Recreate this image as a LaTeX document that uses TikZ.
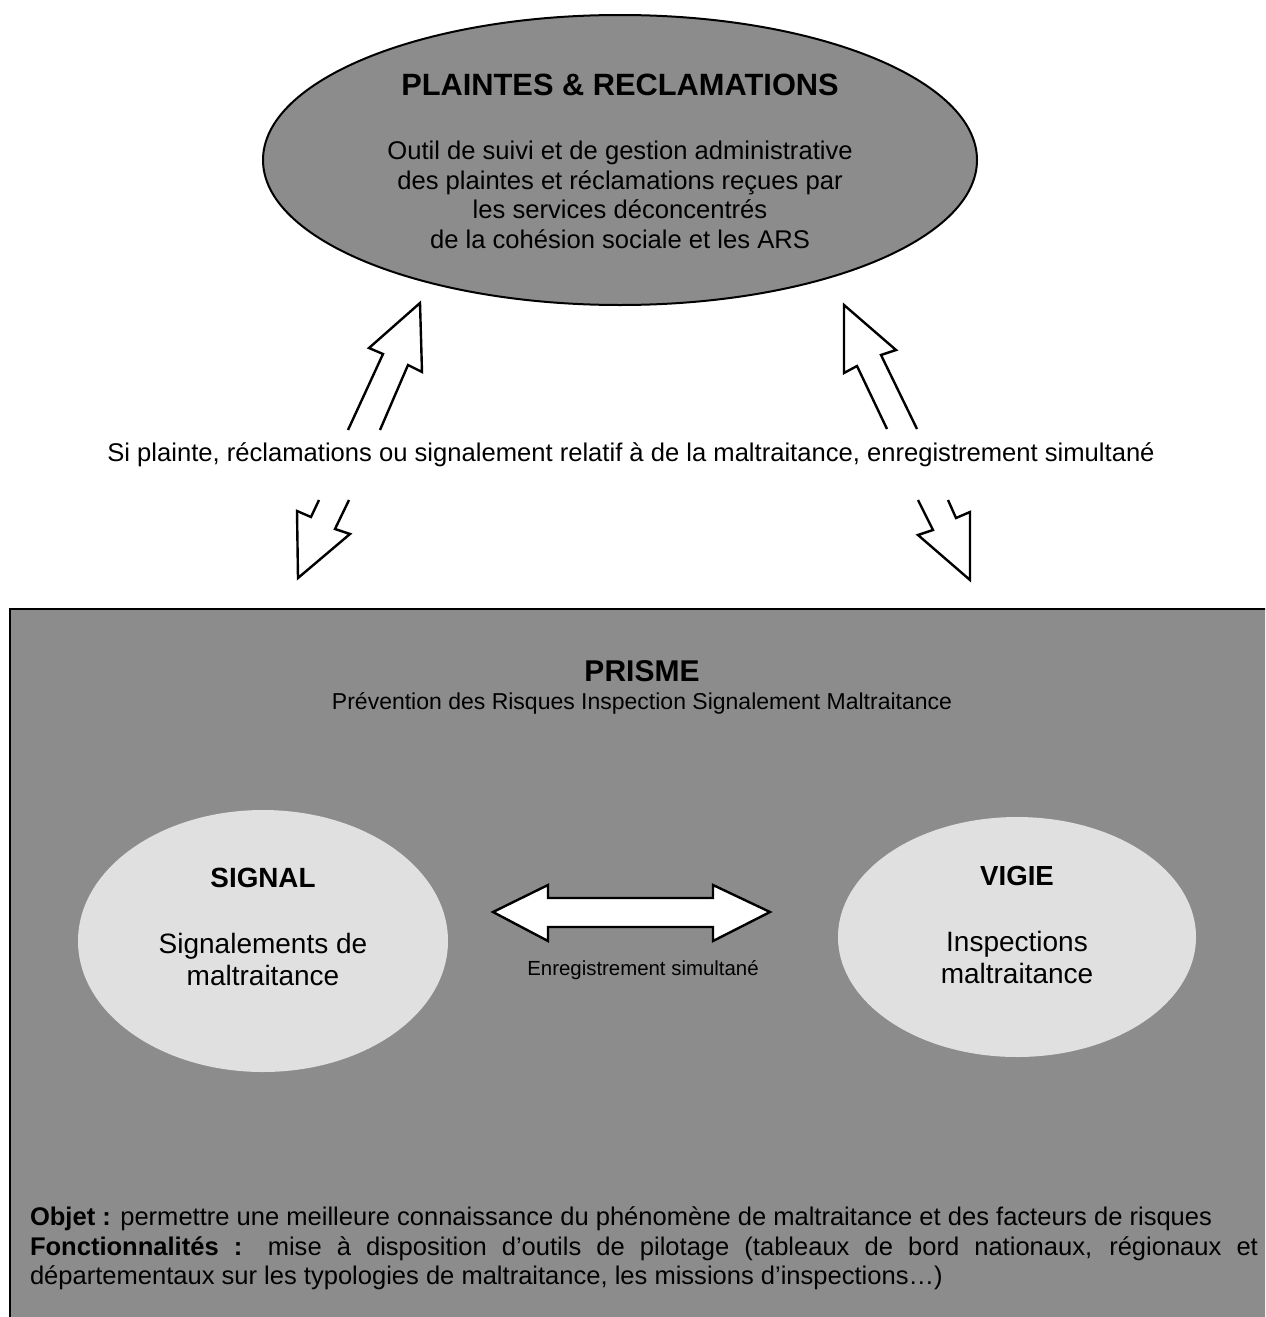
\documentclass[tikz,border=0pt]{standalone}
\usepackage{fontspec}
\setmainfont{Liberation Sans}
\definecolor{boxgray}{HTML}{8C8C8C}
\definecolor{lightgray}{HTML}{E0E0E0}
\tikzset{%
    inner sep=0pt,%
    outer sep=2pt,%
    block arrow/.style={draw=black, line width=1.2pt, fill=white, line join=miter},%
    gray shape/.style={draw=black, line width=1pt, fill=boxgray},%
    light shape/.style={draw=none, fill=lightgray}%
}
\newcommand\fsz[2]{\fontsize{#1}{#2}\selectfont}

\begin{document}
\begin{tikzpicture}[x=0.5pt, y=-0.5pt] % one unit = one pixel of the reference

    \useasboundingbox (0,0) rectangle (1265,1317);
    \clip (0,0) rectangle (1265,1317);

    % top ellipse
    \filldraw[gray shape] (620,160) ellipse (357 and 145);
    \node[font=\fsz{15.4}{18}\bfseries] (plTitle) at (620,85) {PLAINTES \& RECLAMATIONS};
    \node[align=center, font=\fsz{12.8}{14.75}] (plText) at (620,195) {Outil de suivi et de gestion administrative\\
        des plaintes et réclamations reçues par\\ les services déconcentrés\\
        de la cohésion sociale et les ARS};

    % broken arrows up
    \draw[block arrow] (348,430) -- (383,354) -- (369,348) -- (420,303) -- (422,372) -- (408,365) -- (380,430);
    \draw[block arrow] (887,429) -- (857,366) -- (844,373) -- (844,305) -- (896,350) -- (881,355) -- (917,429);

    \node[font=\fsz{12.8}{15}] (simult) at (631,455) {Si plainte, réclamations ou signalement relatif à de la maltraitance, enregistrement simultané};

    % broken arrows down
    \draw[block arrow] (319,500) -- (311,517) -- (297,511) -- (298,578) -- (350,534) -- (335,529) -- (349,500);
    \draw[block arrow] (918,500) -- (933,530) -- (918,535) -- (970,580) -- (970,512) -- (956,518) -- (948,500);

    % PRISME box
    \filldraw[gray shape] (10,609) rectangle (1300,1350);
    \node[font=\fsz{15}{18}\bfseries] (prTitle) at (642,671) {PRISME};
    \node[font=\fsz{11.5}{13}] (prSub) at (642,703) {Prévention des Risques Inspection Signalement Maltraitance};

    % SIGNAL and VIGIE
    \fill[light shape] (263,941) ellipse (185 and 131);
    \fill[light shape] (1017,937) ellipse (179 and 120);
    \node[font=\fsz{13.9}{16}\bfseries] (sgTitle) at (263,878) {SIGNAL};
    \node[align=center, font=\fsz{14}{16}] (sgText) at (263,959) {Signalements de\\ maltraitance};
    \node[font=\fsz{13.8}{16}\bfseries] (vgTitle) at (1017,876) {VIGIE};
    \node[align=center, font=\fsz{14}{16}] (vgText) at (1017,957) {Inspections\\ maltraitance};

    % double arrow
    \draw[block arrow] (493,912) -- (548,885) -- (548,898) -- (713,898) -- (713,885) -- (770,912)
        -- (713,941) -- (713,927) -- (548,927) -- (548,941) -- cycle;
    \node[font=\fsz{10.2}{12}] (enreg) at (643,970) {Enregistrement simultané};

    % bottom text
    \node[anchor=north west, text width=614pt, align=justify, font=\fsz{12.77}{14.75}] (objet) at (26,1203) {\hyphenpenalty=10000
        \textbf{Objet :} permettre une meilleure connaissance du phénomène de maltraitance et des facteurs de risques\par
        \textbf{Fonctionnalités :} mise à disposition d’outils de pilotage (tableaux de bord nationaux, régionaux et départementaux sur les typologies de maltraitance, les missions d’inspections…)\par};

\end{tikzpicture}
\end{document}
